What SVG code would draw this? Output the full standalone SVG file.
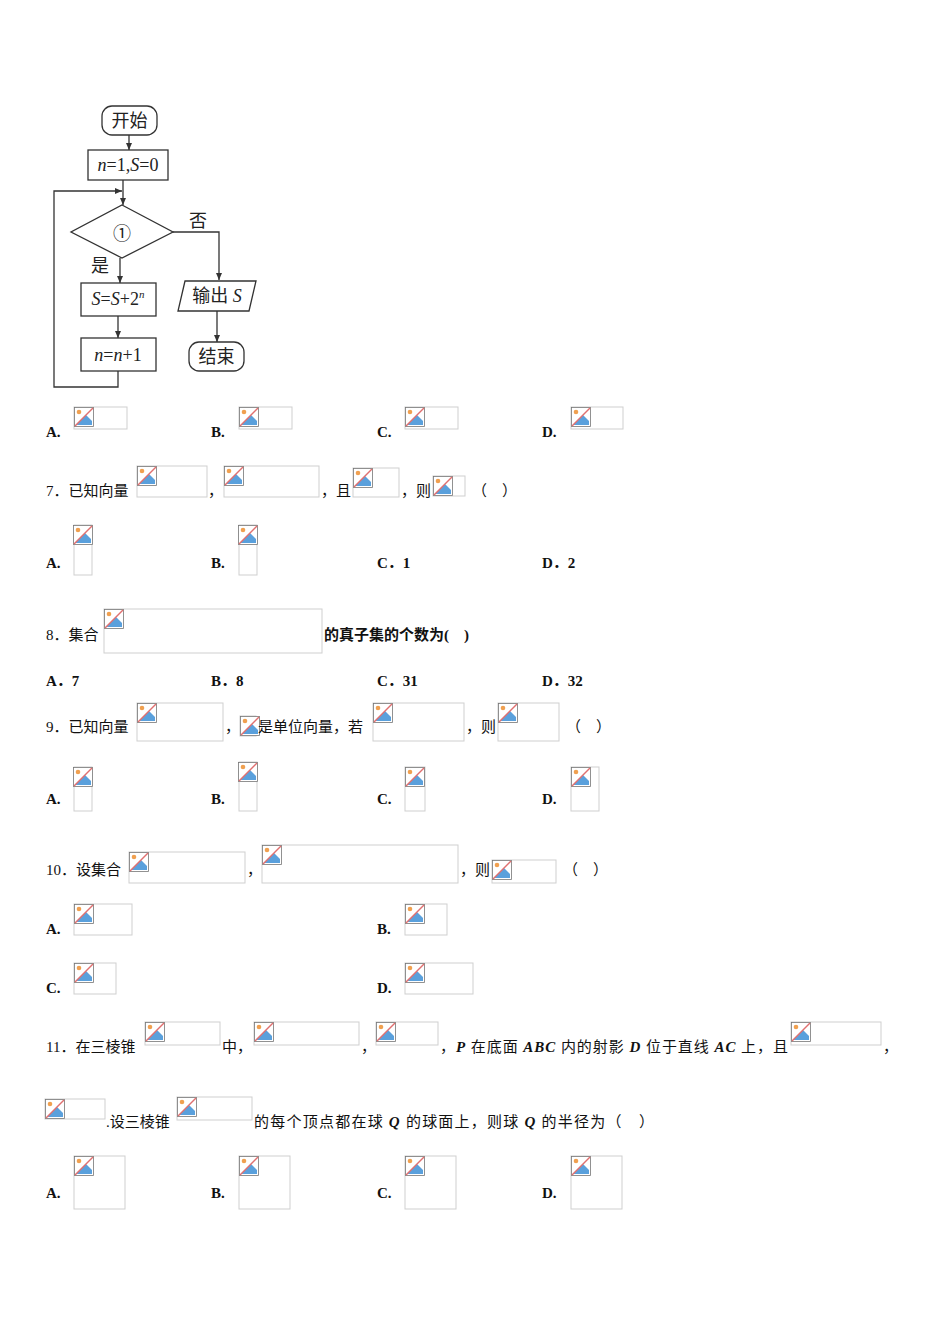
<svg xmlns="http://www.w3.org/2000/svg" xmlns:xlink="http://www.w3.org/1999/xlink" width="950" height="1344" viewBox="0 0 950 1344">
<style>
.t{font-family:"Liberation Serif","Noto Sans CJK SC",serif;font-size:15px;fill:#111}
.b{font-weight:bold}
.f{font-family:"Liberation Serif","Noto Sans CJK SC",serif;font-size:18px;fill:#222}
.i{font-style:italic}
.s{fill:none;stroke:#333;stroke-width:1.3}
.ph{fill:none;stroke:#cfcfcf;stroke-width:1}
</style>
<defs>
<marker id="ar" markerWidth="8" markerHeight="8" refX="7" refY="4" orient="auto" markerUnits="userSpaceOnUse"><path d="M0,1 L7,4 L0,7 z" fill="#333"/></marker>
<g id="ic">
<rect x="0.5" y="0.5" width="19" height="19" fill="#fff" stroke="#777" stroke-width="0.8"/>
<circle cx="5" cy="5" r="2.3" fill="#f0a050"/>
<path d="M2,18 L12,8 L18,14 L18,18 z" fill="#5aa0dc"/>
<line x1="1" y1="19" x2="19" y2="1" stroke="#e07070" stroke-width="1.5"/>
</g>
</defs>
<rect width="950" height="1344" fill="#fff"/>
<g id="connectors">
<line class="s" x1="129" y1="135" x2="129" y2="150" marker-end="url(#ar)"/>
<line class="s" x1="123" y1="180" x2="123" y2="205" marker-end="url(#ar)"/>
<polyline class="s" points="118,371 118,387 54,387 54,191 122,191" marker-end="url(#ar)"/>
<polyline class="s" points="173,232 219,232 219,280" marker-end="url(#ar)"/>
<line class="s" x1="120" y1="258" x2="120" y2="283" marker-end="url(#ar)"/>
<line class="s" x1="118" y1="316" x2="118" y2="338" marker-end="url(#ar)"/>
<line class="s" x1="217" y1="311" x2="217" y2="342" marker-end="url(#ar)"/>
</g>
<g id="start"><rect class="s" x="102" y="106" width="55" height="29" rx="10"/><text class="f" x="129.5" y="127" text-anchor="middle">开始</text></g>
<g id="init"><rect class="s" x="88" y="150" width="80" height="30"/><text class="f" x="128" y="171" text-anchor="middle"><tspan class="i">n</tspan>=1,<tspan class="i">S</tspan>=0</text></g>
<g id="cond"><polygon class="s" points="122,205 173,232 122,258 71,232"/><text class="f" x="122" y="240" text-anchor="middle" font-size="22">①</text></g>
<text class="f" x="189" y="227">否</text>
<text class="f" x="91" y="272">是</text>
<g id="sum"><rect class="s" x="81" y="283" width="75" height="33"/><text class="f" x="118" y="305" text-anchor="middle"><tspan class="i">S</tspan>=<tspan class="i">S</tspan>+2<tspan class="i" font-size="11" dy="-7">n</tspan></text></g>
<g id="inc"><rect class="s" x="81" y="338" width="75" height="33"/><text class="f" x="118" y="361" text-anchor="middle"><tspan class="i">n</tspan>=<tspan class="i">n</tspan>+1</text></g>
<g id="out"><polygon class="s" points="185,281 256,281 249,311 178,311"/><text class="f" x="217" y="302" text-anchor="middle">输出 <tspan class="i">S</tspan></text></g>
<g id="end"><rect class="s" x="189" y="342" width="55" height="29" rx="10"/><text class="f" x="216.5" y="363" text-anchor="middle">结束</text></g>

<g id="q6">
<text class="t b" x="46" y="437">A.</text><text class="t b" x="211" y="437">B.</text><text class="t b" x="377" y="437">C.</text><text class="t b" x="542" y="437">D.</text>
<rect class="ph" x="74" y="407" width="53" height="22"/><use href="#ic" x="74" y="407"/>
<rect class="ph" x="239" y="407" width="53" height="22"/><use href="#ic" x="239" y="407"/>
<rect class="ph" x="405" y="407" width="53" height="22"/><use href="#ic" x="405" y="407"/>
<rect class="ph" x="571" y="407" width="52" height="22"/><use href="#ic" x="571" y="407"/>
</g>
<g id="q7">
<text class="t" x="46" y="496">7．已知向量</text>
<rect class="ph" x="137" y="466" width="70" height="31"/><use href="#ic" x="137" y="466"/>
<text class="t" x="208" y="496">，</text>
<rect class="ph" x="224" y="466" width="95" height="31"/><use href="#ic" x="224" y="466"/>
<text class="t" x="321" y="496">，且</text>
<rect class="ph" x="353" y="468" width="46" height="29"/><use href="#ic" x="353" y="468"/>
<text class="t" x="401" y="496">，则</text>
<rect class="ph" x="433" y="476" width="32" height="20"/><use href="#ic" x="433" y="476"/>
<text class="t" x="472" y="496">（　）</text>
<text class="t b" x="46" y="568">A.</text><text class="t b" x="211" y="568">B.</text><text class="t b" x="377" y="568">C．1</text><text class="t b" x="542" y="568">D．2</text>
<rect class="ph" x="74" y="525" width="18" height="50"/><use href="#ic" x="73" y="525"/>
<rect class="ph" x="239" y="525" width="18" height="50"/><use href="#ic" x="238" y="525"/>
</g>
<g id="q8">
<text class="t" x="46" y="640">8．集合</text>
<rect class="ph" x="104" y="609" width="218" height="44"/><use href="#ic" x="104" y="609"/>
<text class="t b" x="324" y="640">的真子集的个数为(　)</text>
<text class="t b" x="46" y="686">A．7</text><text class="t b" x="211" y="686">B．8</text><text class="t b" x="377" y="686">C．31</text><text class="t b" x="542" y="686">D．32</text>
</g>
<g id="q9">
<text class="t" x="46" y="732">9．已知向量</text>
<rect class="ph" x="137" y="703" width="86" height="38"/><use href="#ic" x="137" y="703"/>
<text class="t" x="225" y="732">，</text>
<rect class="ph" x="240" y="716" width="16" height="20"/><use href="#ic" x="240" y="716"/>
<text class="t" x="258" y="732">是单位向量，若</text>
<rect class="ph" x="373" y="703" width="91" height="38"/><use href="#ic" x="373" y="703"/>
<text class="t" x="466" y="732">，则</text>
<rect class="ph" x="498" y="703" width="61" height="38"/><use href="#ic" x="498" y="703"/>
<text class="t" x="566" y="732">（　）</text>
<text class="t b" x="46" y="804">A.</text><text class="t b" x="211" y="804">B.</text><text class="t b" x="377" y="804">C.</text><text class="t b" x="542" y="804">D.</text>
<rect class="ph" x="74" y="767" width="18" height="44"/><use href="#ic" x="73" y="767"/>
<rect class="ph" x="239" y="762" width="18" height="49"/><use href="#ic" x="238" y="762"/>
<rect class="ph" x="405" y="767" width="20" height="44"/><use href="#ic" x="405" y="767"/>
<rect class="ph" x="571" y="767" width="28" height="44"/><use href="#ic" x="571" y="767"/>
</g>
<g id="q10">
<text class="t" x="46" y="875">10．设集合</text>
<rect class="ph" x="129" y="852" width="116" height="31"/><use href="#ic" x="129" y="852"/>
<text class="t" x="247" y="875">，</text>
<rect class="ph" x="262" y="845" width="196" height="38"/><use href="#ic" x="262" y="845"/>
<text class="t" x="460" y="875">，则</text>
<rect class="ph" x="492" y="860" width="64" height="23"/><use href="#ic" x="492" y="860"/>
<text class="t" x="563" y="875">（　）</text>
<text class="t b" x="46" y="934">A.</text><text class="t b" x="377" y="934">B.</text>
<rect class="ph" x="74" y="904" width="58" height="31"/><use href="#ic" x="74" y="904"/>
<rect class="ph" x="405" y="904" width="42" height="31"/><use href="#ic" x="405" y="904"/>
<text class="t b" x="46" y="993">C.</text><text class="t b" x="377" y="993">D.</text>
<rect class="ph" x="74" y="963" width="42" height="31"/><use href="#ic" x="74" y="963"/>
<rect class="ph" x="405" y="963" width="68" height="31"/><use href="#ic" x="405" y="963"/>
</g>
<g id="q11">
<text class="t" x="46" y="1052">11．在三棱锥</text>
<rect class="ph" x="145" y="1022" width="75" height="23"/><use href="#ic" x="145" y="1022"/>
<text class="t" x="222" y="1052">中，</text>
<rect class="ph" x="254" y="1022" width="105" height="23"/><use href="#ic" x="254" y="1022"/>
<text class="t" x="361" y="1052">，</text>
<rect class="ph" x="376" y="1022" width="62" height="23"/><use href="#ic" x="376" y="1022"/>
<text class="t" x="440" y="1052" textLength="348" lengthAdjust="spacing">，<tspan class="b i">P</tspan> 在底面 <tspan class="b i">ABC</tspan> 内的射影 <tspan class="b i">D</tspan> 位于直线 <tspan class="b i">AC</tspan> 上，且</text>
<rect class="ph" x="791" y="1022" width="90" height="23"/><use href="#ic" x="791" y="1022"/>
<text class="t" x="883" y="1052">，</text>
<rect class="ph" x="45" y="1099" width="60" height="20"/><use href="#ic" x="45" y="1099"/>
<text class="t" x="106" y="1127">.设三棱锥</text>
<rect class="ph" x="177" y="1097" width="75" height="23"/><use href="#ic" x="177" y="1097"/>
<text class="t" x="254" y="1127" textLength="400" lengthAdjust="spacing">的每个顶点都在球 <tspan class="b i">Q</tspan> 的球面上，则球 <tspan class="b i">Q</tspan> 的半径为（　）</text>
<text class="t b" x="46" y="1198">A.</text><text class="t b" x="211" y="1198">B.</text><text class="t b" x="377" y="1198">C.</text><text class="t b" x="542" y="1198">D.</text>
<rect class="ph" x="74" y="1156" width="51" height="53"/><use href="#ic" x="74" y="1156"/>
<rect class="ph" x="239" y="1156" width="51" height="53"/><use href="#ic" x="239" y="1156"/>
<rect class="ph" x="405" y="1156" width="51" height="53"/><use href="#ic" x="405" y="1156"/>
<rect class="ph" x="571" y="1156" width="51" height="53"/><use href="#ic" x="571" y="1156"/>
</g>
</svg>
